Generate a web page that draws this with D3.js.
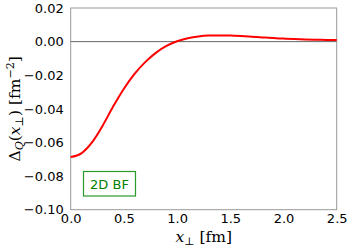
<!DOCTYPE html>
<html><head><meta charset="utf-8">
<script src="https://cdn.jsdelivr.net/npm/d3@7"></script>
<style>body{margin:0;background:#fff}</style>
</head><body>
<svg id="c" width="351" height="248"></svg>
<script>
const xValues = [0,0.1,0.2,0.3,0.4,0.5,0.6,0.7,0.8,0.9,1.0,1.1,1.2,1.3,1.4,1.5,1.6,1.7,1.8,1.9,2.0,2.1,2.2,2.3,2.4,2.5];
const deltaQ = [-0.0687,-0.0665,-0.0600,-0.0500,-0.0385,-0.0280,-0.0192,-0.0122,-0.0067,-0.0026,0.0002,0.0020,0.0031,0.0036,0.0037,0.0036,0.0033,0.0029,0.0025,0.0021,0.0018,0.0015,0.0013,0.0011,0.0010,0.0009];
const xTicks = [0.0,0.5,1.0,1.5,2.0,2.5];
const yTicks = [0.02,0.00,-0.02,-0.04,-0.06,-0.08,-0.10];
const legendLabel = "2D BF";

const svg = d3.select("#c");
const L=70.7, R=336.7, T=8, B=209.7;
const x = d3.scaleLinear().domain([0,2.5]).range([L,R]);
const y = d3.scaleLinear().domain([-0.10,0.02]).range([B,T]);
const fmt = v => (v<0?"\u2212":"") + Math.abs(v).toFixed(2);
const fmtX = v => v.toFixed(1);

svg.append("rect").attr("x",L).attr("y",T).attr("width",R-L).attr("height",B-T)
  .attr("fill","none").attr("stroke","#999").attr("stroke-width",1);

svg.append("line").attr("x1",L).attr("x2",R).attr("y1",y(0)).attr("y2",y(0))
  .attr("stroke","#666").attr("stroke-width",1);

const xAxis = d3.axisBottom(x).tickValues(xTicks).tickFormat(fmtX).tickSize(0).tickPadding(4);
const gx = svg.append("g").attr("transform",`translate(0,${B})`).call(xAxis);
const yAxis = d3.axisLeft(y).tickValues(yTicks).tickFormat(fmt).tickSize(0).tickPadding(7);
const gy = svg.append("g").attr("transform",`translate(${L},0)`).call(yAxis);
[gx,gy].forEach(g=>{
  g.select(".domain").remove();
  g.selectAll("text").attr("font-family","DejaVu Sans").attr("font-size",13).attr("fill","#000");
});

const line = d3.line().x((d,i)=>x(xValues[i])).y(d=>y(d)).curve(d3.curveMonotoneX);
svg.append("path").datum(deltaQ).attr("d",line).attr("fill","none")
  .attr("stroke","#ff0000").attr("stroke-width",2);

svg.append("rect").attr("x",83.5).attr("y",171.5).attr("width",52).attr("height",24.5)
  .attr("fill","#fff").attr("stroke","#2a9a2a").attr("stroke-width",1.2);
svg.append("text").attr("x",109.5).attr("y",188.5).attr("text-anchor","middle")
  .attr("font-family","DejaVu Sans").attr("font-size",13).attr("fill","#008000").text(legendLabel);

const xl = svg.append("text").attr("x",(L+R)/2).attr("y",242).attr("text-anchor","middle")
  .attr("font-family","DejaVu Serif").attr("font-size",15.5).attr("fill","#000");
xl.append("tspan").attr("font-style","italic").text("x");
xl.append("tspan").attr("dy",3).attr("font-size",11).text("\u22A5");
xl.append("tspan").attr("dy",-3).text(" [fm]");

const yl = svg.append("text").attr("transform",`translate(20,${(T+B)/2}) rotate(-90)`)
  .attr("text-anchor","middle").attr("font-family","DejaVu Serif").attr("font-size",15.5).attr("fill","#000");
yl.append("tspan").text("\u0394");
yl.append("tspan").attr("dy",3).attr("font-size",11).attr("font-style","italic").text("Q");
yl.append("tspan").attr("dy",-3).text("(");
yl.append("tspan").attr("font-style","italic").text("x");
yl.append("tspan").attr("dy",3).attr("font-size",11).text("\u22A5");
yl.append("tspan").attr("dy",-3).text(") [fm");
yl.append("tspan").attr("dy",-6).attr("font-size",11).text("\u22122");
yl.append("tspan").attr("dy",6).text("]");
</script>
</body></html>
